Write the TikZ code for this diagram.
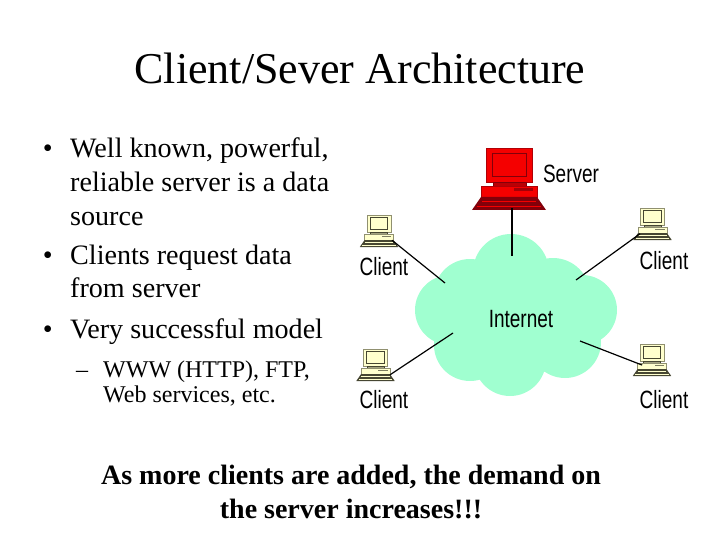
\documentclass[tikz,border=0pt]{standalone}
\usepackage{fontspec}
\setmainfont{Liberation Serif}
\newfontfamily\labelfont{Liberation Sans}
\usetikzlibrary{positioning}
\definecolor{CloudGreen}{RGB}{160, 255, 208}
\definecolor{ClientCream}{RGB}{255, 255, 205}
\definecolor{ClientDark}{RGB}{70, 70, 50}
\definecolor{ServerRed}{RGB}{245, 0, 0}
\definecolor{ServerDark}{RGB}{130, 0, 10}
\tikzset{
    pics/computer/.style n args={3}{code={
        % monitor, neck, case, keyboard
        \draw[#2!60!#1, line width=0.5pt, fill=#1] (-23,-62) rectangle (23,-28);
        \draw[#2, line width=0.8pt] (-17,-57) rectangle (17,-34);
        \draw[#2, line width=0.7pt, fill=#2!50!#1] (-16,-28) rectangle (17,-24);
        \draw[#2!60!#1, line width=0.5pt, fill=#1] (-28,-24) rectangle (28,-13);
        \fill[#2!70!#1] (5,-22) rectangle (24,-19);
        \fill[#2] (-28,-13) -- (28,-13) -- (37,0) -- (-37,0) -- cycle;
        \draw[#1, line width=0.5pt] (-27,-9) -- (27,-9) (-32,-4) -- (32,-4);
        \coordinate (-port) at (#3);
    }}
}
\begin{document}
\begin{tikzpicture}[
            x=1pt, y=-1pt,
            bodytext/.style={anchor=north west, align=left, inner sep=0pt, font=\fontsize{28.1}{33.6}\selectfont},
            subtext/.style={anchor=north west, align=left, inner sep=0pt, font=\fontsize{24}{25}\selectfont},
            tag/.style={inner sep=0pt, xscale=0.76, font=\labelfont\fontsize{25}{28}\selectfont},
            link/.style={draw=black, line width=1.2pt}
        ]
        \useasboundingbox (0,0) rectangle (720,540);

        % Title
        \node[inner sep=0pt, font=\fontsize{44}{52}\selectfont] (title) at (360,68) {Client/Sever Architecture};

        % Bullets
        \node[bodytext] (item1) at (70,138) {Well known, powerful,\\reliable server is a data\\source};
        \node[bodytext] (item2) at (70,244.5) {Clients request data\\from server};
        \node[bodytext] (item3) at (70,318.5) {Very successful model};
        \node[bodytext, anchor=north east] (dot1) at (53,138) {\vphantom{Wl}•};
        \node[bodytext, anchor=north east] (dot2) at (53,244.5) {\vphantom{Cl}•};
        \node[bodytext, anchor=north east] (dot3) at (53,318.5) {\vphantom{Vl}•};
        \node[subtext] (sub1) at (103,361) {WWW (HTTP), FTP,\\Web services, etc.};
        \node[subtext] (dash1) at (76,361) {\vphantom{Wl}–};

        % Cloud
        \fill[CloudGreen] (511,272) circle (38) (470,295) circle (36) (553,295) circle (37)
            (450,310) circle (35) (582,310) circle (35) (470,345) circle (36)
            (565,342) circle (36) (510,360) circle (36) (515,315) circle (50);
        \node[tag] (internet) at (521,319) {Internet};
        \coordinate (cloudtop) at (512,256);
        \coordinate (cloudul) at (445,283);
        \coordinate (cloudur) at (576,280);
        \coordinate (cloudll) at (453,333);
        \coordinate (cloudlr) at (580,341);

        % Computers
        \pic[scale=1] (server) at (509,210) {computer={ServerRed}{ServerDark}{3,-2}};
        \pic[scale=0.52] (client1) at (379,247) {computer={ClientCream}{ClientDark}{25,-13}};
        \pic[scale=0.52] (client2) at (652.5,240) {computer={ClientCream}{ClientDark}{-24,-12}};
        \pic[scale=0.52] (client3) at (375.5,381) {computer={ClientCream}{ClientDark}{28,-12}};
        \pic[scale=0.52] (client4) at (652,376) {computer={ClientCream}{ClientDark}{-19,-21}};

        % Labels
        \node[tag] (serverlabel) at (571,174) {Server};
        \node[tag] (label1) at (384,267) {Client};
        \node[tag] (label2) at (664,261) {Client};
        \node[tag] (label3) at (384,400) {Client};
        \node[tag] (label4) at (664,400) {Client};

        % Links
        \draw[link] (server-port) -- (cloudtop);
        \draw[link] (client1-port) -- (cloudul);
        \draw[link] (client2-port) -- (cloudur);
        \draw[link] (client3-port) -- (cloudll);
        \draw[link] (client4-port) -- (cloudlr);

        % Bottom line
        \node[align=center, inner sep=0pt, font=\bfseries\fontsize{28}{33.6}\selectfont] (note) at (351,492) {As more clients are added, the demand on\\the server increases!!!};

        \end{tikzpicture}
\end{document}
